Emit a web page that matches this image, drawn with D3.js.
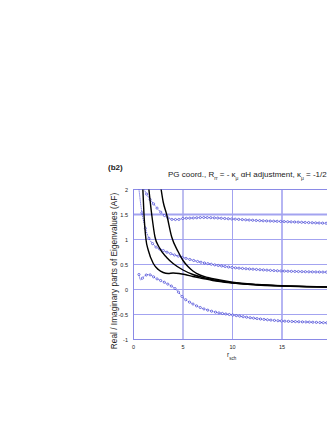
<!DOCTYPE html>
<html>
<head>
<meta charset="utf-8">
<script src="https://cdn.jsdelivr.net/npm/d3@7"></script>
<style>
  body { margin: 0; background: #fff; }
  text { font-family: "Liberation Sans", Arial, sans-serif; fill: #222; }
</style>
</head>
<body>
<svg width="327" height="423"></svg>
<script>
// eigenvalue curves (x = r_sch)
var xTicks = [0, 5, 10, 15];
var yTicks = [2, 1.5, 1, 0.5, 0, -0.5, -1];
var yTickLabels = ["2", "1.5", "1", "0.5", "0", "-0.5", "-1"];

// black solid curves
var c1 = [[0.9, 2.2], [1.06, 1.5], [1.26, 1.0], [1.5, 0.78], [2, 0.52], [2.5, 0.4], [3, 0.34], [3.5, 0.32],
          [4, 0.33], [4.6, 0.32], [5.2, 0.3], [6, 0.26], [7, 0.22], [8, 0.18], [10, 0.13], [12.5, 0.09],
          [15, 0.07], [17.5, 0.055], [20, 0.045]];
var c2 = [[1.45, 2.2], [1.84, 1.5], [2.17, 1.05], [2.6, 0.84], [3.35, 0.64], [4, 0.52], [5, 0.39],
          [6, 0.3], [7, 0.24], [8, 0.195], [10, 0.135], [12.5, 0.095], [15, 0.072], [17.5, 0.057], [20, 0.047]];
var c3 = [[2.65, 2.2], [3, 1.75], [3.35, 1.5], [3.86, 1.05], [4.5, 0.76], [5, 0.58], [5.5, 0.46], [6, 0.37],
          [6.7, 0.29], [7.5, 0.24], [8.7, 0.19], [10, 0.145], [12.5, 0.1], [15, 0.075], [17.5, 0.06], [20, 0.05]];

// blue dotted curves with circle markers
var b1 = [[0.95, 2.05], [1.5, 1.85], [2, 1.72], [2.5, 1.6], [3, 1.5], [3.5, 1.43], [4, 1.4], [4.5, 1.4],
          [5, 1.42], [6, 1.43], [7, 1.44], [10, 1.41], [12.5, 1.38], [15, 1.36], [17.5, 1.34], [20, 1.32]];
var b2 = [[0.5, 2.1], [0.8, 1.6], [1.1, 1.3], [1.5, 1.05], [2, 0.9], [3, 0.78], [4, 0.7], [5, 0.64],
          [6.7, 0.55], [8, 0.5], [10, 0.44], [12.5, 0.4], [15, 0.37], [17.5, 0.355], [20, 0.345]];
var b3 = [[0.55, 0.3], [0.72, 0.19], [1, 0.25], [1.5, 0.3], [2.3, 0.22], [3.35, 0.12], [4.3, 0.0],
          [5, -0.16], [6, -0.29], [7, -0.38], [8, -0.44], [10, -0.51], [12, -0.57], [15, -0.63],
          [17.5, -0.65], [20, -0.67]];

var svg = d3.select("svg");
var x = d3.scaleLinear().domain([0, 20]).range([133.5, 331.5]);
var y = d3.scaleLinear().domain([-1, 2]).range([339.5, 189.5]);

svg.append("clipPath").attr("id", "plot")
    .append("rect").attr("x", x(0)).attr("y", y(2))
    .attr("width", x(20) - x(0)).attr("height", y(-1) - y(2));

// grid
var grid = svg.append("g").attr("stroke", "#a3a3f0").attr("stroke-width", 1);
grid.selectAll(".gx").data([5, 10, 15]).enter().append("line")
    .attr("x1", d => x(d)).attr("x2", d => x(d))
    .attr("y1", y(2)).attr("y2", y(-1))
    .attr("stroke-width", d => d == 15 ? 1.6 : 1)
    .attr("stroke", d => d == 5 ? "#7d7de0" : "#a3a3f0");
grid.selectAll(".gy").data([1.5, 1, 0.5, 0, -0.5]).enter().append("line")
    .attr("x1", x(0)).attr("x2", x(20))
    .attr("y1", d => y(d)).attr("y2", d => y(d))
    .attr("stroke-width", d => d == 1.5 ? 1.8 : 1);

// frame
svg.append("rect").attr("x", x(0)).attr("y", y(2))
    .attr("width", x(20) - x(0)).attr("height", y(-1) - y(2))
    .attr("fill", "none").attr("stroke", "#8a8ae6").attr("stroke-width", 1);

// tick labels
svg.selectAll(".yt").data(yTicks).enter().append("text")
    .attr("x", 128).attr("y", d => y(d) + 2)
    .attr("text-anchor", "end").attr("font-size", 5.5)
    .text((d, i) => yTickLabels[i]);
svg.selectAll(".xt").data(xTicks).enter().append("text")
    .attr("x", d => x(d)).attr("y", 349)
    .attr("text-anchor", "middle").attr("font-size", 5.5)
    .text(d => d);

var line = d3.line()
    .x(d => x(d[0])).y(d => y(d[1]))
    .curve(d3.curveMonotoneX);

var plot = svg.append("g").attr("clip-path", "url(#plot)");

// blue curves: dotted line plus small open circles spaced along x
[b1, b2, b3].forEach(function (s) {
    var p = plot.append("path").datum(s)
        .attr("d", line)
        .attr("fill", "none")
        .attr("stroke", "#2c2cd0")
        .attr("stroke-width", 0.9)
        .attr("stroke-dasharray", "1,1");
    var node = p.node(), len = node.getTotalLength();
    var step = 3.4, nextX = x(s[0][0]);
    for (var l = 0; l <= len; l += 0.5) {
        var pt = node.getPointAtLength(l);
        if (pt.x >= nextX) {
            plot.append("circle").attr("cx", pt.x).attr("cy", pt.y).attr("r", 1.1)
                .attr("fill", "#fff").attr("stroke", "#2c2cd0").attr("stroke-width", 0.6);
            nextX = pt.x + step;
        }
    }
});

// black curves
[c1, c2, c3].forEach(function (s) {
    plot.append("path").datum(s)
        .attr("d", line)
        .attr("fill", "none")
        .attr("stroke", "#000")
        .attr("stroke-width", 1.4);
});

// labels
svg.append("text").attr("x", 108).attr("y", 170)
    .attr("font-size", 8).attr("font-weight", "bold").text("(b2)");

var title = svg.append("text").attr("x", 168).attr("y", 177).attr("font-size", 8);
title.append("tspan").text("PG coord.,  R");
title.append("tspan").attr("dy", 2.5).attr("font-size", 5).text("rr");
title.append("tspan").attr("dy", -2.5).text("  = - κ");
title.append("tspan").attr("dy", 2.5).attr("font-size", 5).text("μ");
title.append("tspan").attr("dy", -2.5).text(" αH  adjustment,  κ");
title.append("tspan").attr("dy", 2.5).attr("font-size", 5).text("μ");
title.append("tspan").attr("dy", -2.5).text("  =  -1/2");

svg.append("text")
    .attr("transform", "translate(117,271) rotate(-90)")
    .attr("text-anchor", "middle").attr("font-size", 8.3)
    .text("Real / Imaginary  parts of Eigenvalues (AF)");

var xl = svg.append("text").attr("x", 227).attr("y", 357).attr("font-size", 6.5);
xl.append("tspan").text("r");
xl.append("tspan").attr("dy", 3).attr("font-size", 4.5).text("sch");
</script>
</body>
</html>
